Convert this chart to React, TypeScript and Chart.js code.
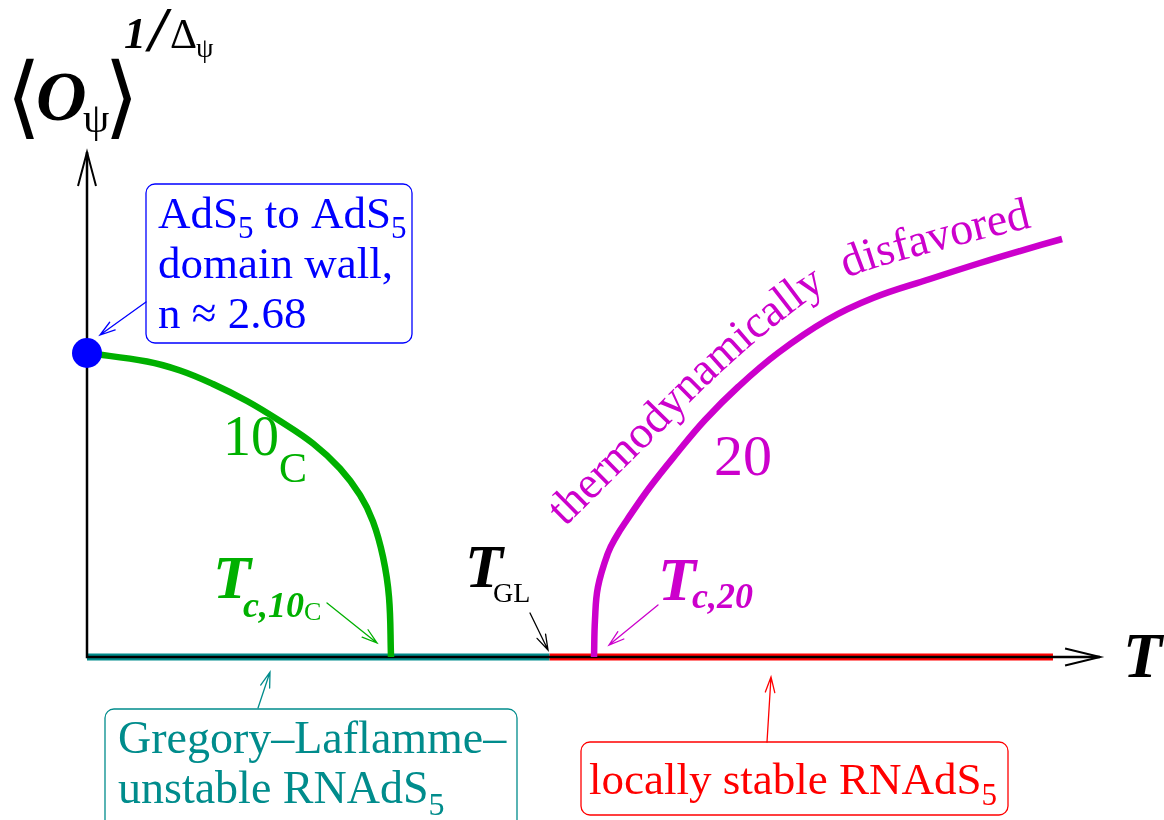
import { useEffect, useRef } from "react";
import { Chart, registerables } from "chart.js";

Chart.register(...registerables);

// ---------- data (T, <O>^(1/Delta)) ----------
const tealBranchT = [0, 0.4803];
const tealBranchY = [0, 0];
const redBranchT = [0.4803, 1.0031];
const redBranchY = [0, 0];
const greenT = [0, 0.0623, 0.0966, 0.1308, 0.1661, 0.2004, 0.2347, 0.2627, 0.2835, 0.297, 0.3074, 0.3136, 0.3157];
const greenY = [1.0, 0.972, 0.9424, 0.898, 0.8421, 0.7763, 0.7023, 0.6201, 0.5329, 0.4457, 0.3289, 0.1974, 0];
const magentaT = [0.5265, 0.5275, 0.5306, 0.541, 0.5493, 0.5607, 0.5846, 0.6127, 0.6417, 0.676, 0.7175, 0.7684, 0.8162, 0.8754, 0.9273, 0.9688, 1.0125];
const magentaY = [0, 0.1217, 0.2303, 0.3421, 0.3947, 0.4507, 0.5592, 0.6711, 0.7796, 0.8882, 1.0, 1.1086, 1.1809, 1.2434, 1.2961, 1.3355, 1.375];
const domainWallT = [0];
const domainWallY = [1];

const axisTMax = 1.052;
const axisYMax = 1.661;

// ---------- styles ----------
const TEAL = "rgb(0,140,140)";
const RED = "rgb(255,0,0)";
const GREEN = "rgb(0,176,0)";
const MAGENTA = "rgb(204,0,204)";
const BLUE = "rgb(0,0,255)";
const SERIF = "'Liberation Serif', 'Times New Roman', serif";

const pts = (xs: number[], ys: number[]) => xs.map((x, i) => ({ x, y: ys[i] }));

type Part = { t: string; font: string; dx?: number; dy?: number; x?: number };

function drawRich(ctx: CanvasRenderingContext2D, parts: Part[], x: number, y: number, color: string) {
  ctx.save();
  ctx.fillStyle = color;
  ctx.textAlign = "left";
  ctx.textBaseline = "alphabetic";
  let cx = x;
  for (const p of parts) {
    ctx.font = p.font;
    if (p.x !== undefined) cx = p.x;
    cx += p.dx || 0;
    ctx.fillText(p.t, cx, y + (p.dy || 0));
    cx += ctx.measureText(p.t).width;
  }
  ctx.restore();
}

function arrow(ctx: CanvasRenderingContext2D, x1: number, y1: number, x2: number, y2: number, color: string, lw = 1.3, head = 15) {
  ctx.save();
  ctx.strokeStyle = color;
  ctx.lineWidth = lw;
  ctx.lineCap = "round";
  ctx.beginPath();
  ctx.moveTo(x1, y1);
  ctx.lineTo(x2, y2);
  const a = Math.atan2(y2 - y1, x2 - x1);
  const w = 0.3;
  ctx.moveTo(x2 - head * Math.cos(a - w), y2 - head * Math.sin(a - w));
  ctx.lineTo(x2, y2);
  ctx.lineTo(x2 - head * Math.cos(a + w), y2 - head * Math.sin(a + w));
  ctx.stroke();
  ctx.restore();
}

function box(ctx: CanvasRenderingContext2D, x: number, y: number, w: number, h: number, color: string) {
  ctx.save();
  ctx.strokeStyle = color;
  ctx.lineWidth = 1.3;
  ctx.beginPath();
  (ctx as any).roundRect(x, y, w, h, 9);
  ctx.stroke();
  ctx.restore();
}

function catmull(p: number[][], n = 24) {
  const out: number[][] = [];
  for (let i = 0; i < p.length - 1; i++) {
    const p0 = p[Math.max(i - 1, 0)], p1 = p[i], p2 = p[i + 1], p3 = p[Math.min(i + 2, p.length - 1)];
    for (let s = 0; s < n; s++) {
      const t = s / n, t2 = t * t, t3 = t2 * t;
      const f = (k: number) =>
        0.5 * (2 * p1[k] + (-p0[k] + p2[k]) * t + (2 * p0[k] - 5 * p1[k] + 4 * p2[k] - p3[k]) * t2 + (-p0[k] + 3 * p1[k] - 3 * p2[k] + p3[k]) * t3);
      out.push([f(0), f(1)]);
    }
  }
  out.push(p[p.length - 1]);
  return out;
}

function textOnPath(ctx: CanvasRenderingContext2D, text: string, anchors: number[][], font: string, color: string) {
  const path = catmull(anchors);
  const cum = [0];
  for (let i = 1; i < path.length; i++) {
    cum.push(cum[i - 1] + Math.hypot(path[i][0] - path[i - 1][0], path[i][1] - path[i - 1][1]));
  }
  const L = cum[cum.length - 1];
  const at = (s: number) => {
    let i = 1;
    while (i < cum.length - 1 && cum[i] < s) i++;
    const a = path[i - 1], b = path[i];
    const seg = cum[i] - cum[i - 1] || 1;
    const t = Math.max(0, Math.min(1, (s - cum[i - 1]) / seg));
    return { x: a[0] + (b[0] - a[0]) * t, y: a[1] + (b[1] - a[1]) * t, ang: Math.atan2(b[1] - a[1], b[0] - a[0]) };
  };
  ctx.save();
  ctx.font = font;
  ctx.fillStyle = color;
  ctx.textAlign = "center";
  ctx.textBaseline = "alphabetic";
  const chars = Array.from(text);
  const widths = chars.map((c) => ctx.measureText(c).width);
  const W = widths.reduce((a, b) => a + b, 0);
  const gap = (L - W) / (chars.length - 1);
  let s = 0;
  chars.forEach((c, i) => {
    const p = at(s + widths[i] / 2);
    ctx.save();
    ctx.translate(p.x, p.y);
    ctx.rotate(p.ang);
    ctx.fillText(c, 0, 0);
    ctx.restore();
    s += widths[i] + gap;
  });
  ctx.restore();
}

const axesPlugin = {
  id: "axesWithArrows",
  afterDatasetDraw(chart: any, args: any) {
    if (args.index !== 3) return;
    const ctx: CanvasRenderingContext2D = chart.ctx;
    const xs = chart.scales.x, ys = chart.scales.y;
    const ox = xs.getPixelForValue(0), oy = ys.getPixelForValue(0);
    const xe = xs.getPixelForValue(axisTMax), ye = ys.getPixelForValue(axisYMax);
    ctx.save();
    ctx.strokeStyle = "#000";
    ctx.lineWidth = 2.5;
    ctx.beginPath();
    ctx.moveTo(ox, ye);
    ctx.lineTo(ox, oy);
    ctx.lineTo(xe, oy);
    ctx.stroke();
    ctx.lineWidth = 2;
    ctx.beginPath();
    ctx.moveTo(xe - 35, oy - 8.5);
    ctx.lineTo(xe, oy);
    ctx.lineTo(xe - 35, oy + 8.5);
    ctx.moveTo(ox - 9, ye + 34);
    ctx.lineTo(ox, ye);
    ctx.lineTo(ox + 9, ye + 34);
    ctx.stroke();
    ctx.restore();
  },
};

const labelsPlugin = {
  id: "labels",
  afterDraw(chart: any) {
    const ctx: CanvasRenderingContext2D = chart.ctx;
    const R = (s: number) => `${s}px ${SERIF}`;
    const BI = (s: number) => `italic bold ${s}px ${SERIF}`;

    // y-axis title
    drawRich(ctx, [{ t: "\u27E8", font: `90px 'DejaVu Sans'` }], 6, 127, "#000");
    drawRich(ctx, [{ t: "O", font: BI(70) }], 36, 120, "#000");
    drawRich(ctx, [{ t: "\u03C8", font: R(42) }], 83, 132, "#000");
    drawRich(ctx, [{ t: "\u27E9", font: `90px 'DejaVu Sans'` }], 104, 127, "#000");
    drawRich(ctx, [{ t: "1", font: BI(44) }], 124, 48, "#000");
    drawRich(ctx, [{ t: "/", font: BI(64) }], 149, 51, "#000");
    drawRich(ctx, [{ t: "\u0394", font: R(42) }], 170, 48, "#000");
    drawRich(ctx, [{ t: "\u03C8", font: R(28) }], 196, 57, "#000");

    // x-axis title
    drawRich(ctx, [{ t: "T", font: BI(64) }], 1123, 677, "#000");

    // blue box
    box(ctx, 146, 184, 266, 159, BLUE);
    drawRich(ctx, [
      { t: "AdS", font: R(45) },
      { t: "5", font: R(31), dy: 10 },
      { t: " to AdS", font: R(45) },
      { t: "5", font: R(31), dy: 10 },
    ], 158, 228, BLUE);
    drawRich(ctx, [{ t: "domain wall,", font: R(45) }], 158, 278, BLUE);
    drawRich(ctx, [{ t: "n \u2248 2.68", font: R(45) }], 158, 328, BLUE);
    arrow(ctx, 146, 302, 100, 335, BLUE, 1.3, 16);

    // green labels
    drawRich(ctx, [{ t: "10", font: R(56) }, { t: "C", font: R(42), dy: 27 }], 223, 455, GREEN);
    drawRich(ctx, [
      { t: "T", font: BI(62) },
      { t: "c,10", font: BI(36), x: 243, dy: 19 },
      { t: "C", font: R(26), dy: 22 },
    ], 213, 598, GREEN);
    arrow(ctx, 327, 603, 377, 643, GREEN, 1.3, 16);

    // T_GL
    drawRich(ctx, [{ t: "T", font: BI(62) }, { t: "GL", font: R(28), x: 493, dy: 15 }], 465, 587, "#000");
    arrow(ctx, 530, 613, 548, 650, "#000", 1.3, 16);

    // magenta labels
    drawRich(ctx, [{ t: "T", font: BI(62) }, { t: "c,20", font: BI(36), x: 692, dy: 8 }], 658, 600, MAGENTA);
    arrow(ctx, 658, 605, 609, 645, MAGENTA, 1.3, 16);
    drawRich(ctx, [{ t: "20", font: R(58) }], 714, 475, MAGENTA);
    textOnPath(ctx, "thermodynamically  disfavored",
      [[565, 527], [650, 443], [713, 380], [780, 322], [845, 279], [940, 250], [1032, 227]],
      R(46), MAGENTA);

    // teal box
    box(ctx, 105, 709, 412, 125, TEAL);
    drawRich(ctx, [{ t: "Gregory\u2013Laflamme\u2013", font: R(46) }], 118, 753, TEAL);
    drawRich(ctx, [{ t: "unstable RNAdS", font: R(46) }, { t: "5", font: R(32), dy: 12 }], 118, 803, TEAL);
    arrow(ctx, 258, 708, 270, 672, TEAL, 1.3, 16);

    // red box
    box(ctx, 581, 742, 427, 73, RED);
    drawRich(ctx, [{ t: "locally stable RNAdS", font: R(45) }, { t: "5", font: R(31), dy: 11 }], 589, 794, RED);
    arrow(ctx, 767, 742, 771, 677, RED, 1.3, 16);
  },
};

export default function App() {
  const ref = useRef<HTMLCanvasElement | null>(null);
  useEffect(() => {
    if (!ref.current) return;
    const chart = new Chart(ref.current, {
      type: "line",
      data: {
        datasets: [
          {
            label: "AdS5 domain wall",
            data: pts(domainWallT, domainWallY),
            showLine: false,
            pointRadius: 15,
            pointBackgroundColor: BLUE,
            pointBorderColor: BLUE,
            pointBorderWidth: 0,
          },
          {
            label: "10C",
            data: pts(greenT, greenY),
            borderColor: GREEN,
            borderWidth: 6.5,
            pointRadius: 0,
            tension: 0.4,
            borderCapStyle: "butt",
          },
          {
            label: "20",
            data: pts(magentaT, magentaY),
            borderColor: MAGENTA,
            borderWidth: 6.5,
            pointRadius: 0,
            tension: 0.4,
            borderCapStyle: "butt",
          },
          {
            label: "locally stable RNAdS5",
            data: pts(redBranchT, redBranchY),
            borderColor: RED,
            borderWidth: 7,
            pointRadius: 0,
          },
          {
            label: "GL-unstable RNAdS5",
            data: pts(tealBranchT, tealBranchY),
            borderColor: TEAL,
            borderWidth: 7,
            pointRadius: 0,
          },
        ],
      },
      options: {
        animation: false,
        responsive: true,
        maintainAspectRatio: false,
        layout: { padding: 0, autoPadding: false },
        events: [],
        scales: {
          x: { type: "linear", min: -0.090343, max: 1.11838, display: false },
          y: { type: "linear", min: -0.536184, max: 2.161184, display: false },
        },
        plugins: { legend: { display: false }, tooltip: { enabled: false } },
      },
      plugins: [axesPlugin, labelsPlugin],
    } as any);
    return () => chart.destroy();
  }, []);
  return (
    <div style={{ position: "fixed", left: 0, top: 0, width: 1164, height: 820, background: "#fff" }}>
      <canvas ref={ref} />
    </div>
  );
}
